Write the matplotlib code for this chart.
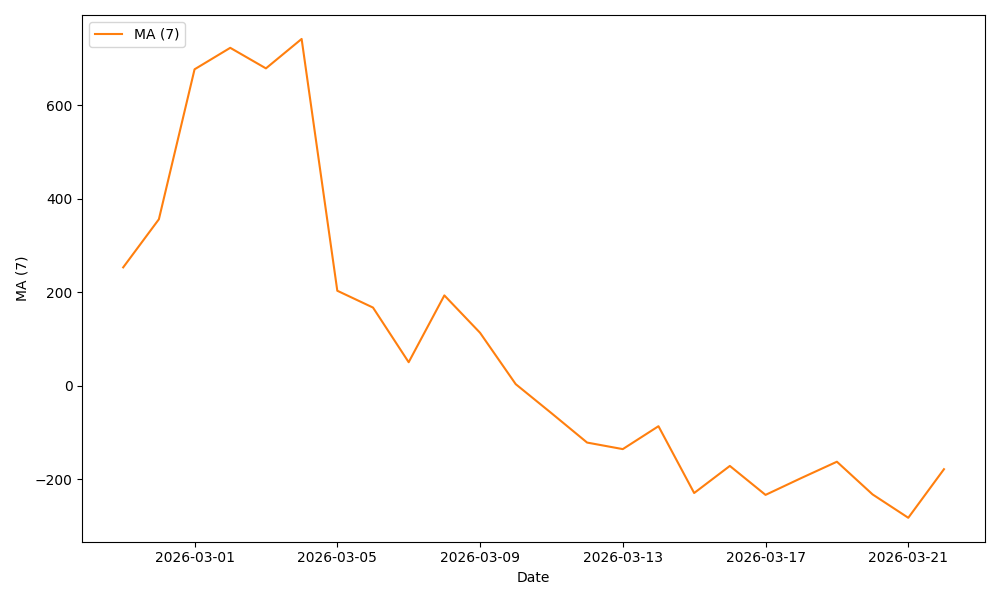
import matplotlib
matplotlib.use("Agg")
import matplotlib.pyplot as plt
import pandas as pd

dates = pd.date_range("2026-02-27", "2026-03-22", freq="D")
ma7 = [253, 356, 677, 723, 679, 742, 203, 167, 50, 193, 113, 3, -59, -122,
       -136, -87, -230, -172, -234, -198, -163, -233, -283, -179]

fig, ax = plt.subplots(figsize=(10, 6), dpi=100)
ax.plot(dates, ma7, color="#ff7f0e", label="MA (7)")
ax.set_xlabel("Date")
ax.set_ylabel("MA (7)")
ax.legend(loc="upper left")
ax.set_xticks(pd.date_range("2026-03-01", "2026-03-21", freq="4D"))
ax.xaxis.set_major_formatter(matplotlib.dates.DateFormatter("%Y-%m-%d"))
fig.tight_layout()
fig.savefig("out.png")
